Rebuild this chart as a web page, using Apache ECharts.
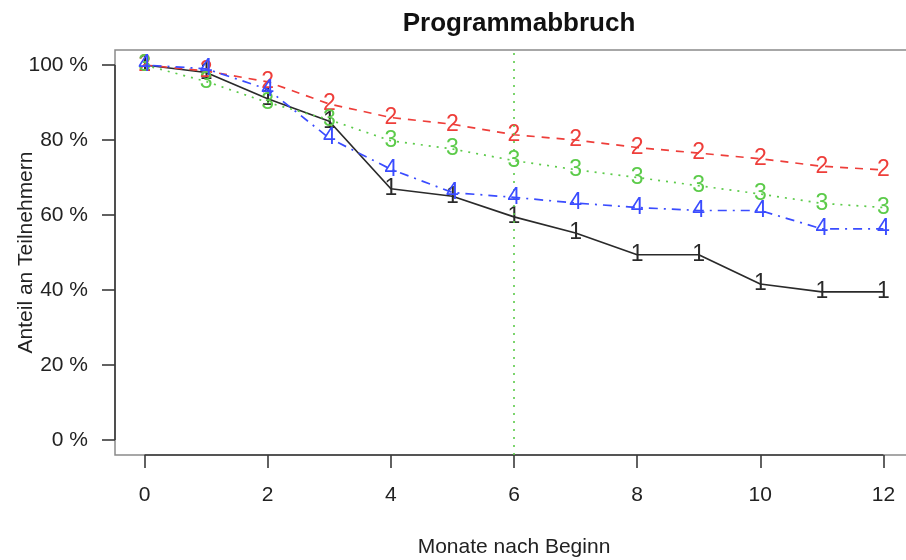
<!DOCTYPE html>
<html>
<head>
<meta charset="utf-8">
<script src="https://cdn.jsdelivr.net/npm/echarts@6/dist/echarts.min.js"></script>
<style>
  html, body { margin: 0; padding: 0; background: #fff; }
  #chart { width: 906px; height: 560px; }
</style>
</head>
<body>
<div id="chart"></div>
<script>
// Months after start
const months = [0, 1, 2, 3, 4, 5, 6, 7, 8, 9, 10, 11, 12];

// Share of participants still in the programme (%), one array per group
const group1 = [100, 98, 91, 85, 67, 65, 59.5, 55.2, 49.4, 49.4, 41.6, 39.5, 39.5];
const group2 = [100, 98.4, 95.5, 89.6, 86, 84.2, 81.4, 80, 78, 76.5, 75, 73, 72];
const group3 = [100, 95.6, 90, 85.4, 79.8, 77.6, 74.5, 72.1, 70, 67.8, 65.6, 63.1, 62];
const group4 = [100, 99, 93.5, 80.5, 72.2, 66, 64.7, 63.2, 62, 61.2, 61.2, 56.3, 56.3];

// Axis tick positions and labels
const xTicks = [0, 2, 4, 6, 8, 10, 12];
const yTicks = [0, 20, 40, 60, 80, 100];

const markerMonth = 6;

const FONT = 'Liberation Sans, Arial, Helvetica, sans-serif';
const AXIS_DARK = '#3a3a3a';

const groups = [
  { name: '1', values: group1, color: '#2a2a2a', dash: 'solid' },
  { name: '2', values: group2, color: '#EE3E3A', dash: [8, 7] },
  { name: '3', values: group3, color: '#5CCB4A', dash: [2, 6] },
  { name: '4', values: group4, color: '#3A4CFF', dash: [2, 6, 9, 6] }
];

const series = groups.map((g, idx) => ({
  type: 'line',
  name: g.name,
  data: months.map((m, i) => [m, g.values[i]]),
  symbol: 'circle',
  symbolSize: 1,
  itemStyle: { color: 'rgba(0,0,0,0)' },
  lineStyle: { color: g.color, width: 1.7, type: g.dash },
  label: {
    show: true,
    position: 'inside',
    formatter: g.name,
    color: g.color,
    fontFamily: FONT,
    fontSize: 23
  },
  emphasis: { disabled: true },
  animation: false,
  clip: false,
  z: 2 + idx
}));

// Vertical reference line at month 6 (green dotted)
series[2].markLine = {
  silent: true,
  symbol: 'none',
  label: { show: false },
  lineStyle: { color: '#5CCB4A', type: [2, 6], width: 1.6 },
  data: [{ xAxis: markerMonth }],
  animation: false
};

// Axis lines spanning the first to last tick (drawn over the plot box)
series[0].markLine = {
  silent: true,
  symbol: 'none',
  label: { show: false },
  lineStyle: { color: AXIS_DARK, type: 'solid', width: 1.6 },
  data: [
    [{ coord: [xTicks[0], -4] }, { coord: [xTicks[xTicks.length - 1], -4] }],
    [{ coord: [-0.48, yTicks[0]] }, { coord: [-0.48, yTicks[yTicks.length - 1]] }]
  ],
  animation: false
};

const chart = echarts.init(document.getElementById('chart'), null, { renderer: 'canvas' });

chart.setOption({
  backgroundColor: '#fff',
  animation: false,
  title: {
    text: 'Programmabbruch',
    left: 514,
    top: 6,
    textAlign: 'center',
    textStyle: { fontFamily: FONT, fontSize: 26, fontWeight: 'bold', color: '#111' }
  },
  grid: {
    show: true,
    left: 115,
    top: 50,
    width: 798,
    height: 405,
    outerBoundsMode: 'none',
    containLabel: false,
    borderColor: '#8a8a8a',
    borderWidth: 1.5,
    backgroundColor: '#fff'
  },
  xAxis: {
    type: 'value',
    min: -0.48,
    max: 12.48,
    name: 'Monate nach Beginn',
    nameLocation: 'middle',
    nameGap: 82,
    nameMoveOverlap: false,
    nameTextStyle: { fontFamily: FONT, fontSize: 21, color: '#222' },
    axisLine: { show: false, onZero: false },
    splitLine: { show: false },
    axisTick: {
      show: true,
      inside: false,
      customValues: xTicks,
      length: 13,
      lineStyle: { color: AXIS_DARK, width: 1.6 }
    },
    axisLabel: {
      show: true,
      customValues: xTicks,
      margin: 30,
      fontFamily: FONT,
      fontSize: 21,
      color: '#222'
    }
  },
  yAxis: {
    type: 'value',
    min: -4,
    max: 104,
    name: 'Anteil an Teilnehmern',
    nameLocation: 'middle',
    nameGap: 78,
    nameRotate: 90,
    nameMoveOverlap: false,
    nameTextStyle: { fontFamily: FONT, fontSize: 21, color: '#222' },
    axisLine: { show: false, onZero: false },
    splitLine: { show: false },
    axisTick: {
      show: true,
      inside: false,
      customValues: yTicks,
      length: 13,
      lineStyle: { color: AXIS_DARK, width: 1.6 }
    },
    axisLabel: {
      show: true,
      customValues: yTicks,
      margin: 27,
      fontFamily: FONT,
      fontSize: 21,
      color: '#222',
      formatter: v => v + ' %'
    }
  },
  series: series
});
</script>
</body>
</html>
